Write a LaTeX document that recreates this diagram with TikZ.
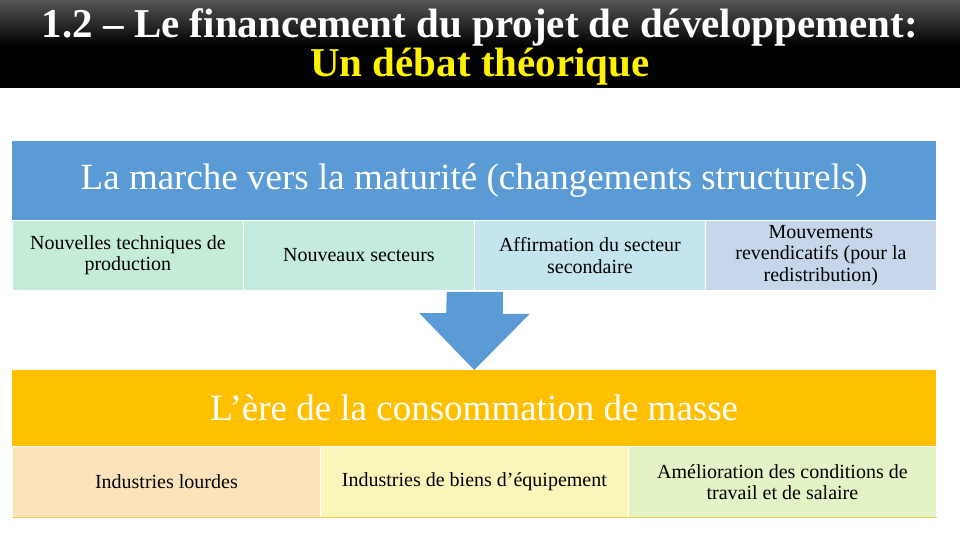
\documentclass[tikz,border=0pt]{standalone}
\usepackage{fontspec}
\setmainfont{LiberationSerif}[Extension=.ttf,UprightFont=*-Regular,BoldFont=*-Bold,ItalicFont=*-Italic,BoldItalicFont=*-BoldItalic]

\definecolor{barblue}{HTML}{5B9BD5}
\definecolor{barorange}{HTML}{FFC000}
\definecolor{mint}{HTML}{C4ECD6}
\definecolor{aqua}{HTML}{C5EBE1}
\definecolor{sky}{HTML}{C5E5EE}
\definecolor{lavender}{HTML}{C8D6EB}
\definecolor{peach}{HTML}{FDE3BC}
\definecolor{cream}{HTML}{FAF6BA}
\definecolor{lime}{HTML}{E3F3C5}
\definecolor{rule}{HTML}{F2CC55}
\definecolor{titlegray}{HTML}{555555}

\def\cellfont{\fontsize{20}{21.5}\selectfont}
\def\barfont{\fontsize{37}{40}\selectfont}

\begin{document}
\begin{tikzpicture}[x=1pt,y=-1pt,every text node part/.style={align=center},
  bar/.style={anchor=north west,inner sep=0pt,minimum width=924pt,text=white,font=\barfont},
  cell/.style={anchor=north west,inner sep=0pt,draw=white,line width=0.8pt,font=\cellfont}]
  \useasboundingbox (0,0) rectangle (960,540);

  % title
  \shade[top color=titlegray,bottom color=black] (0,0) rectangle (960,46);
  \fill[black] (0,45) rectangle (960,88);
  \node[inner sep=0pt,text=white,font=\fontsize{41}{35}\selectfont\bfseries] (title) at (480,47)
    {1.2 -- Le financement du projet de développement:\\\textcolor{yellow}{Un débat théorique}};

  % upper block
  \node[bar,fill=barblue,minimum height=79pt] (up) at (12,141) {La marche vers la maturité (changements structurels)};
  \node[cell,fill=mint,minimum width=231pt,minimum height=70pt] (a1) at (12,220) {Nouvelles techniques de\\production};
  \node[cell,fill=aqua,minimum width=231pt,minimum height=70pt] (a2) at (243,220) {Nouveaux secteurs};
  \node[cell,fill=sky,minimum width=231pt,minimum height=70pt] (a3) at (474,220) {Affirmation du secteur\\secondaire};
  \node[cell,fill=lavender,minimum width=231pt,minimum height=70pt] (a4) at (705,220) {Mouvements\\revendicatifs (pour la\\redistribution)};

  % lower block
  \node[bar,fill=barorange,minimum height=76pt] (down) at (12,370) {L’ère de la consommation de masse};
  \node[cell,fill=peach,minimum width=308pt,minimum height=71pt] (b1) at (12,446) {Industries lourdes};
  \node[cell,fill=cream,minimum width=308pt,minimum height=71pt] (b2) at (320,446) {Industries de biens d’équipement};
  \node[cell,fill=lime,minimum width=308pt,minimum height=71pt] (b3) at (628,446) {Amélioration des conditions de\\travail et de salaire};
  \draw[rule,line width=1pt] (b1.south west) -- (b3.south east);

  % arrow
  \fill[barblue] (a2.south east) ++(-28,1) -- ++(56,0) -- ++(0,22) -- ++(27,0)
    -- (down.north) -- ++(-55,-57) -- ++(27,0) -- cycle;
\end{tikzpicture}
\end{document}
